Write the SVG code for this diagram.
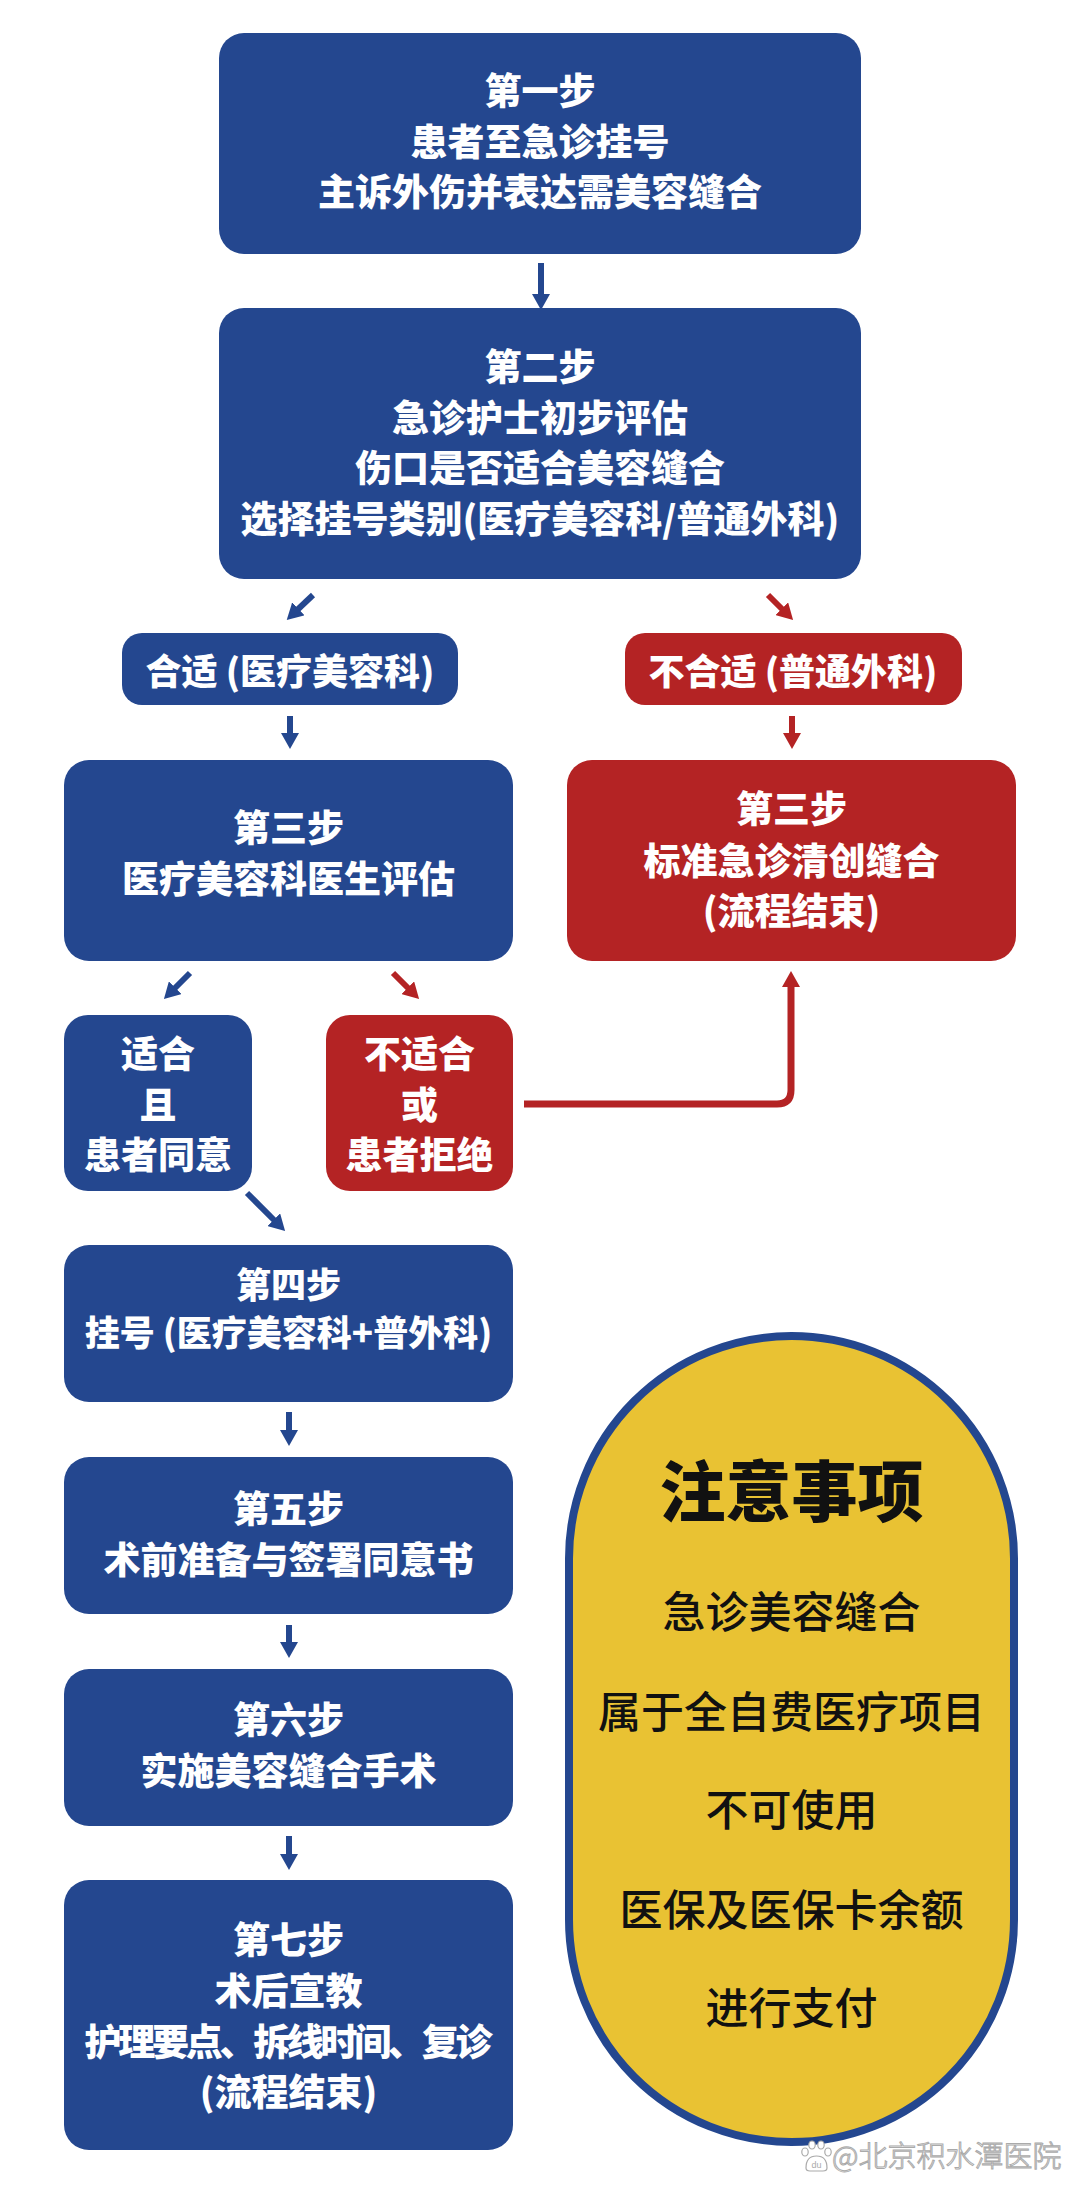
<svg xmlns="http://www.w3.org/2000/svg" width="1080" height="2194" viewBox="0 0 1080 2194">
<style>
.bg{fill:#ffffff}
.b{fill:#24478F}
.r{fill:#B42324}
.t{font-family:"Noto Sans CJK SC","Noto Sans",sans-serif;font-weight:900;font-size:37px;fill:#ffffff;text-anchor:middle}
.p{font-size:36px}
.s{font-size:35px}
.n{font-family:"Noto Sans CJK SC","Noto Sans",sans-serif;fill:#111111;text-anchor:middle;font-weight:500;font-size:43px}
.h{font-weight:900;font-size:66px}
.cb{stroke:#24478F;stroke-width:6;fill:none}
.cr{stroke:#B42324;stroke-width:6;fill:none}
.wm{font-family:"Noto Sans CJK SC","Noto Sans",sans-serif;font-weight:300;font-size:29px;fill:#ffffff;stroke:#aaaaaa;stroke-width:1}
</style>
<defs>
<marker id="ab" viewBox="0 0 16 18" refX="6" refY="9" markerWidth="16" markerHeight="18" markerUnits="userSpaceOnUse" orient="auto">
<path d="M0,0 L16,9 L0,18 z" fill="#24478F"/>
</marker>
<marker id="ar" viewBox="0 0 16 18" refX="6" refY="9" markerWidth="16" markerHeight="18" markerUnits="userSpaceOnUse" orient="auto">
<path d="M0,0 L16,9 L0,18 z" fill="#B42324"/>
</marker>
</defs>
<rect class="bg" x="0" y="0" width="1080" height="2194"/>

<g id="connectors">
<path class="cb" d="M541,263 V300" marker-end="url(#ab)"/>
<path class="cb" d="M313,595 L294,613" marker-end="url(#ab)"/>
<path class="cr" d="M768,595 L786,613" marker-end="url(#ar)"/>
<path class="cb" d="M290,716 V739" marker-end="url(#ab)"/>
<path class="cr" d="M792,716 V739" marker-end="url(#ar)"/>
<path class="cb" d="M190,973 L171,992" marker-end="url(#ab)"/>
<path class="cr" d="M393,973 L412,992" marker-end="url(#ar)"/>
<path class="cr" style="stroke-width:7" d="M524,1104 H777 Q791,1104 791,1090 V981" marker-end="url(#ar)"/>
<path class="cb" d="M247,1193 L278,1224" marker-end="url(#ab)"/>
<path class="cb" d="M289,1412 V1436" marker-end="url(#ab)"/>
<path class="cb" d="M289,1625 V1648" marker-end="url(#ab)"/>
<path class="cb" d="M289,1836 V1860" marker-end="url(#ab)"/>
</g>

<g id="step1">
<rect class="b" x="219" y="33" width="642" height="221" rx="25"/>
<text class="t" x="540" y="105">第一步</text>
<text class="t" x="540" y="156">患者至急诊挂号</text>
<text class="t" x="540" y="206">主诉外伤并表达需美容缝合</text>
</g>

<g id="step2">
<rect class="b" x="219" y="308" width="642" height="271" rx="25"/>
<text class="t" x="540" y="381">第二步</text>
<text class="t" x="540" y="432">急诊护士初步评估</text>
<text class="t" x="540" y="482">伤口是否适合美容缝合</text>
<text class="t" x="540" y="533">选择挂号类别(医疗美容科/普通外科)</text>
</g>

<g id="pill-suitable">
<rect class="b" x="122" y="633" width="336" height="72" rx="20"/>
<text class="t p" x="290" y="685">合适 (医疗美容科)</text>
</g>

<g id="pill-unsuitable">
<rect class="r" x="625" y="633" width="337" height="72" rx="20"/>
<text class="t p" x="793" y="685">不合适 (普通外科)</text>
</g>

<g id="step3-cosmetic">
<rect class="b" x="64" y="760" width="449" height="201" rx="25"/>
<text class="t" x="288.5" y="842">第三步</text>
<text class="t" x="288.5" y="893">医疗美容科医生评估</text>
</g>

<g id="step3-standard">
<rect class="r" x="567" y="760" width="449" height="201" rx="25"/>
<text class="t" x="791.5" y="823">第三步</text>
<text class="t" x="791.5" y="875">标准急诊清创缝合</text>
<text class="t" x="791.5" y="925">(流程结束)</text>
</g>

<g id="agree">
<rect class="b" x="64" y="1015" width="188" height="176" rx="24"/>
<text class="t" x="158" y="1068">适合</text>
<text class="t" x="158" y="1119">且</text>
<text class="t" x="158" y="1169">患者同意</text>
</g>

<g id="refuse">
<rect class="r" x="326" y="1015" width="187" height="176" rx="24"/>
<text class="t" x="419.5" y="1068">不适合</text>
<text class="t" x="419.5" y="1119">或</text>
<text class="t" x="419.5" y="1169">患者拒绝</text>
</g>

<g id="step4">
<rect class="b" x="64" y="1245" width="449" height="157" rx="25"/>
<text class="t s" x="288.5" y="1298">第四步</text>
<text class="t s" x="288.5" y="1346">挂号 (医疗美容科+普外科)</text>
</g>

<g id="step5">
<rect class="b" x="64" y="1457" width="449" height="157" rx="25"/>
<text class="t" x="288.5" y="1523">第五步</text>
<text class="t" x="288.5" y="1574">术前准备与签署同意书</text>
</g>

<g id="step6">
<rect class="b" x="64" y="1669" width="449" height="157" rx="25"/>
<text class="t" x="288.5" y="1734">第六步</text>
<text class="t" x="288.5" y="1785">实施美容缝合手术</text>
</g>

<g id="step7">
<rect class="b" x="64" y="1880" width="449" height="270" rx="25"/>
<text class="t" x="288.5" y="1954">第七步</text>
<text class="t" x="288.5" y="2005">术后宣教</text>
<text class="t" x="288.5" y="2056" textLength="408" lengthAdjust="spacing">护理要点、拆线时间、复诊</text>
<text class="t" x="288.5" y="2106">(流程结束)</text>
</g>

<g id="notes">
<rect x="569" y="1336" width="445" height="806" rx="222.5" ry="222.5" fill="#E9C233" stroke="#24478F" stroke-width="8"/>
<text class="n h" x="791.5" y="1516">注意事项</text>
<text class="n" x="791.5" y="1628">急诊美容缝合</text>
<text class="n" x="791.5" y="1728">属于全自费医疗项目</text>
<text class="n" x="791.5" y="1826">不可使用</text>
<text class="n" x="791.5" y="1926">医保及医保卡余额</text>
<text class="n" x="791.5" y="2024">进行支付</text>
</g>

<g id="watermark">
<g fill="#ffffff" stroke="#aaaaaa" stroke-width="1.2">
<ellipse cx="805" cy="2152" rx="3.2" ry="4"/>
<ellipse cx="812" cy="2145" rx="3.2" ry="4"/>
<ellipse cx="821" cy="2145" rx="3.2" ry="4"/>
<ellipse cx="828" cy="2152" rx="3.2" ry="4"/>
<path d="M806,2168 Q806,2156 816.5,2156 Q827,2156 827,2168 Q827,2171 823,2171 H810 Q806,2171 806,2168 z"/>
</g>
<text x="816.5" y="2168" font-family="Liberation Sans, sans-serif" font-size="9" fill="#aaaaaa" text-anchor="middle">du</text>
<text class="wm" x="832" y="2167">@北京积水潭医院</text>
</g>
</svg>
